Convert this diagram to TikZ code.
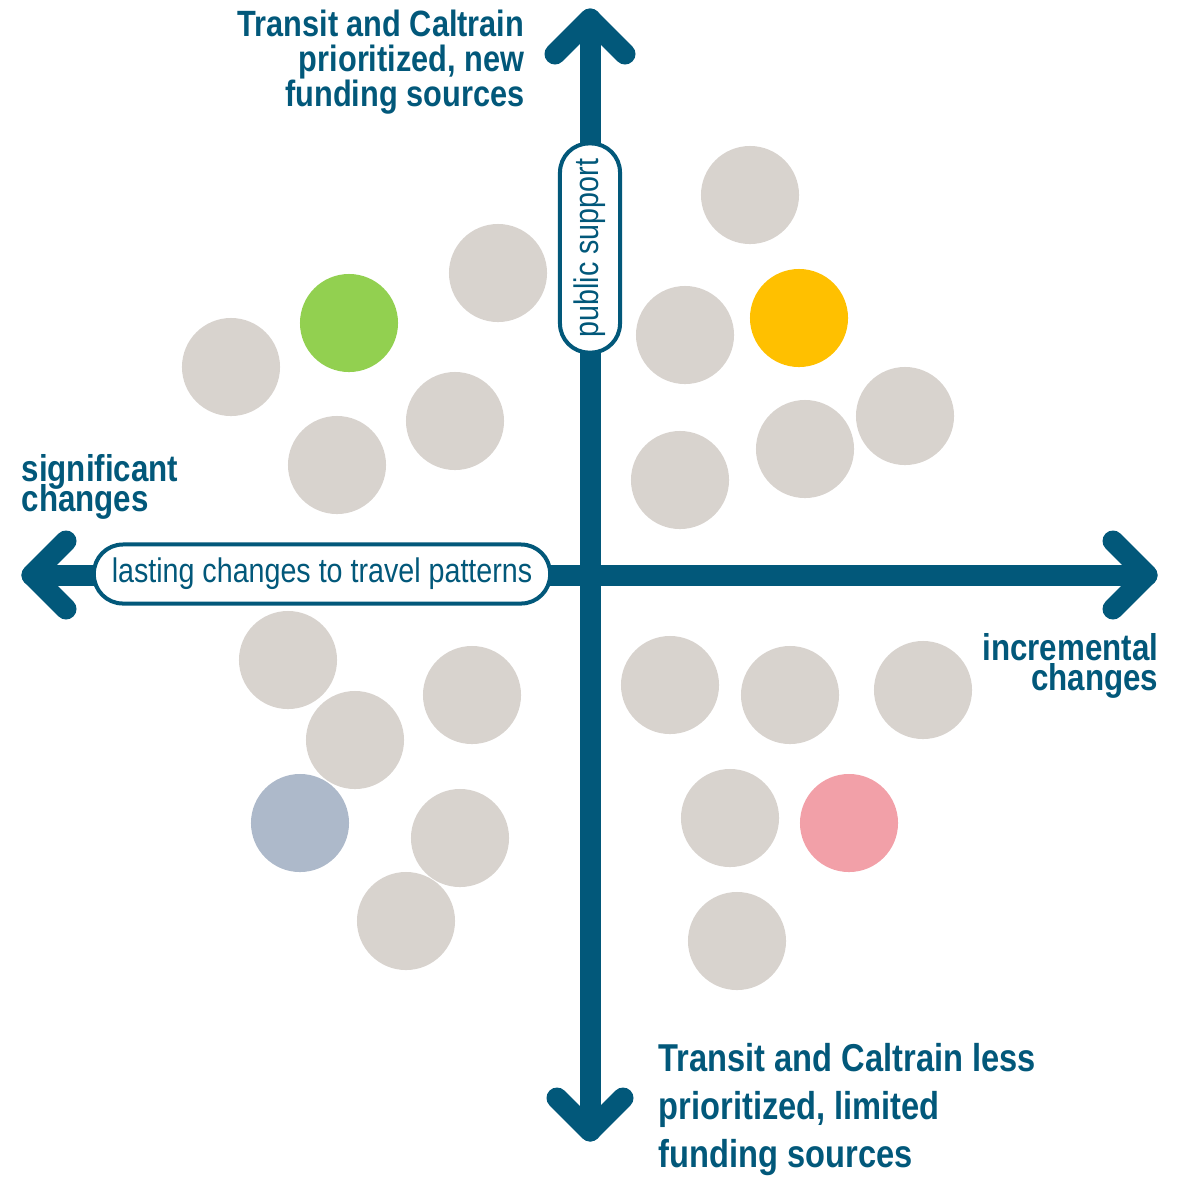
\documentclass[tikz,border=0pt]{standalone}
\usepackage{fontspec}
\setmainfont[FakeStretch=0.84]{Liberation Sans}
\definecolor{axisblue}{RGB}{2,88,122}
\definecolor{dotgray}{RGB}{216,211,206}
\definecolor{dotgreen}{RGB}{146,208,80}
\definecolor{dotyellow}{RGB}{255,192,0}
\definecolor{dotpink}{RGB}{242,160,168}
\definecolor{dotblue}{RGB}{173,185,202}

\newcommand\tightlines{\lineskiplimit=-20pt\relax}

\tikzset{
  axis/.style={axisblue, line width=0.21cm},
  pill/.style={draw=axisblue, line width=0.04cm, fill=white, rounded corners=0.29cm,
    text=axisblue, inner sep=0, font=\fontsize{9.7}{10}\selectfont},
  head/.style={text=axisblue, inner sep=0,
    font=\bfseries\fontsize#1\selectfont\tightlines},
}

\begin{document}
\begin{tikzpicture}[x=0.01cm, y=-0.01cm, line cap=round, line join=round]

    \useasboundingbox (0,0) rectangle (1188,1178);

    % Dot radius
    \def\r{0.49cm}

    % Grey dots
    \foreach \px/\py in {498/273, 231/367, 455/421, 337/465,
        750/195, 685/335, 905/416, 805/449, 680/480,
        288/660, 472/695, 355/740, 460/838, 406/921,
        670/685, 790/695, 923/690, 730/818, 737/941}
        \fill[dotgray] (\px,\py) circle (\r);

    % Coloured dots
    \fill[dotgreen] (349,323) circle (\r);
    \fill[dotyellow] (799,318) circle (\r);
    \fill[dotblue] (300,823) circle (\r);
    \fill[dotpink] (849,823) circle (\r);

    % Axis ends
    \coordinate (west) at (32,575);
    \coordinate (east) at (1147,575);
    \coordinate (north) at (590,19);
    \coordinate (south) at (590,1131);

    % Axes
    \draw[axis] (west) -- (east);
    \draw[axis] (north) -- (south);
    \draw[axis] (west) ++(34,-34) -- (west) -- ++(34,34);
    \draw[axis] (east) ++(-34,-34) -- (east) -- ++(-34,34);
    \draw[axis] (north) ++(-35,35) -- (north) -- ++(35,35);
    \draw[axis] (south) ++(-33,-33) -- (south) -- ++(33,-33);

    % Axis labels
    \node[pill, minimum width=4.56cm, minimum height=0.59cm] (travel) at (322,574) {lasting changes to travel patterns};
    \node[pill, rotate=90, minimum width=2.09cm, minimum height=0.6cm] (support) at (590,248) {public support};

    % Quadrant headings
    \node[head={{10.4}{10}}, anchor=north east, align=right] (high) at (525,9)
        {Transit and Caltrain\\prioritized, new\\funding sources};
    \node[head={{11.05}{13.6}}, anchor=north west, align=left] (low) at (658,1043)
        {Transit and Caltrain less\\prioritized, limited\\funding sources};
    \node[head={{10.6}{8.5}}, anchor=north west, align=left] (signif) at (21,454)
        {significant\\changes};
    \node[head={{10.6}{8.5}}, anchor=north east, align=right] (incr) at (1159,633)
        {incremental\\changes};

\end{tikzpicture}
\end{document}
